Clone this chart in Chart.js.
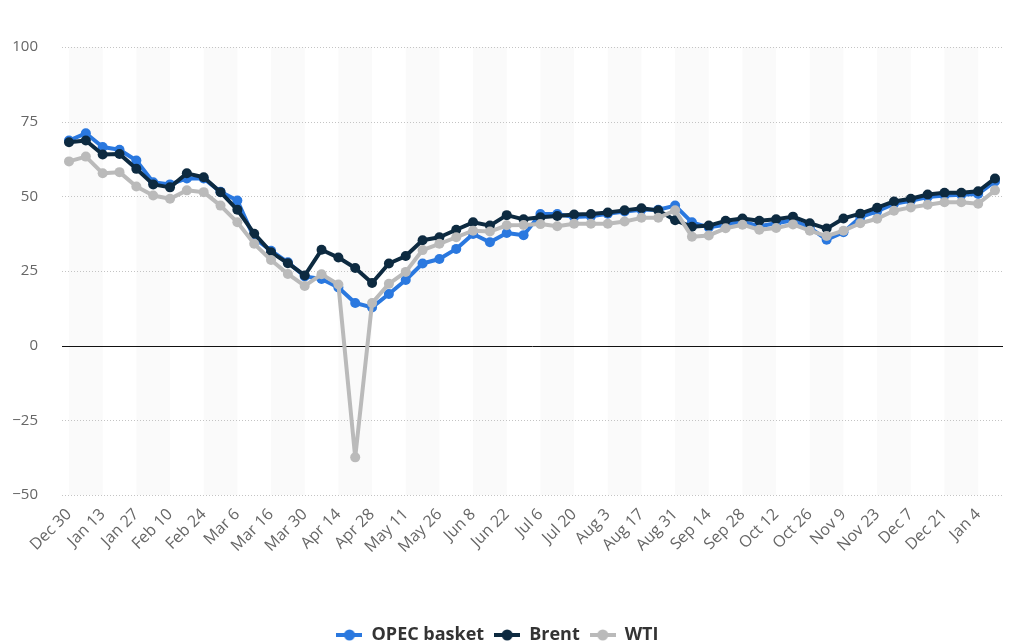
<!DOCTYPE html>
<html>
<head>
<meta charset="utf-8">
<script src="https://cdn.jsdelivr.net/npm/chart.js@4/dist/chart.umd.min.js"></script>
<style>
  html, body { margin: 0; padding: 0; background: #fff; }
  #wrap { width: 1021px; height: 644px; position: relative; }
</style>
</head>
<body>
<div id="wrap"><canvas id="oilChart"></canvas></div>
<script>
var weeks = ["Dec 30", "Jan 6", "Jan 13", "Jan 20", "Jan 27", "Feb 3", "Feb 10", "Feb 17", "Feb 24", "Mar 2",
  "Mar 6", "Mar 9", "Mar 16", "Mar 23", "Mar 30", "Apr 6", "Apr 14", "Apr 20", "Apr 28", "May 4",
  "May 11", "May 18", "May 26", "Jun 1", "Jun 8", "Jun 15", "Jun 22", "Jun 29", "Jul 6", "Jul 13",
  "Jul 20", "Jul 27", "Aug 3", "Aug 10", "Aug 17", "Aug 24", "Aug 31", "Sep 7", "Sep 14", "Sep 21",
  "Sep 28", "Oct 5", "Oct 12", "Oct 19", "Oct 26", "Nov 2", "Nov 9", "Nov 16", "Nov 23", "Nov 30",
  "Dec 7", "Dec 14", "Dec 21", "Dec 28", "Jan 4", "Jan 11"];

var opecBasket = [68.7, 71.1, 66.5, 65.6, 62.0, 54.7, 54.0, 56.0, 56.0, 51.5,
  48.6, 36.0, 31.8, 27.9, 23.2, 22.3, 19.5, 14.3, 12.8, 17.3,
  22.0, 27.5, 29.0, 32.4, 37.4, 34.6, 37.7, 37.0, 44.1, 44.1,
  43.1, 43.3, 44.2, 44.9, 45.5, 45.5, 46.9, 41.3, 39.6, 40.5,
  41.5, 40.0, 41.0, 42.0, 39.5, 35.5, 38.0, 43.0, 45.0, 47.5,
  48.5, 49.8, 50.3, 50.5, 50.8, 55.0];

var brent = [68.1, 68.7, 64.0, 64.2, 59.2, 54.0, 53.0, 57.7, 56.4, 51.4,
  45.5, 37.5, 31.3, 27.6, 23.5, 32.1, 29.5, 26.0, 21.0, 27.5,
  30.0, 35.3, 36.3, 38.8, 41.3, 40.2, 43.7, 42.3, 43.0, 43.4,
  43.9, 44.1, 44.6, 45.3, 46.0, 45.3, 42.0, 39.8, 40.2, 41.8,
  42.6, 41.8, 42.3, 43.2, 41.0, 39.2, 42.6, 44.2, 46.2, 48.3,
  49.2, 50.6, 51.2, 51.2, 51.7, 56.0];

var wti = [61.7, 63.3, 57.7, 58.1, 53.3, 50.3, 49.2, 52.0, 51.4, 46.9,
  41.3, 34.1, 28.7, 24.0, 20.0, 23.9, 20.5, -37.4, 14.3, 20.7,
  24.7, 32.0, 34.1, 36.3, 38.5, 38.2, 40.3, 40.4, 40.7, 40.0,
  40.8, 40.8, 40.8, 41.6, 42.8, 42.8, 45.3, 36.5, 36.9, 39.3,
  40.5, 38.8, 39.4, 40.6, 38.5, 36.7, 38.5, 41.0, 42.5, 45.2,
  46.3, 47.2, 48.0, 48.0, 47.5, 52.0];

var yTicks = [-50, -25, 0, 25, 50, 75, 100];

var colors = { opec: "#2a78df", brent: "#0d2a40", wti: "#bababa" };

Chart.defaults.font.family = "'Open Sans', sans-serif";
Chart.defaults.color = "#666";

// little line+dot marker for the legend
function legendMarker(color) {
  var c = document.createElement("canvas");
  c.width = 26; c.height = 12;
  var g = c.getContext("2d");
  g.strokeStyle = color; g.lineWidth = 4;
  g.beginPath(); g.moveTo(0, 6); g.lineTo(26, 6); g.stroke();
  g.fillStyle = color;
  g.beginPath(); g.arc(13, 6, 5.5, 0, Math.PI * 2); g.fill();
  return c;
}

// striped background + dotted grid + zero line
var backdrop = {
  id: "backdrop",
  beforeDatasetsDraw: function(chart) {
    var ctx = chart.ctx, area = chart.chartArea;
    var xs = chart.scales.x, ys = chart.scales.y;
    ctx.save();
    ctx.fillStyle = "#fafafa";
    for (var i = 0; i + 2 < weeks.length; i += 4) {
      var x0 = xs.getPixelForValue(i), x1 = xs.getPixelForValue(i + 2);
      ctx.fillRect(x0, area.top, x1 - x0, area.bottom - area.top);
    }
    ctx.lineWidth = 1;
    yTicks.forEach(function(v) {
      var py = Math.round(ys.getPixelForValue(v)) + 0.5;
      ctx.beginPath();
      if (v === 0) {
        ctx.setLineDash([]);
        ctx.strokeStyle = "#111";
      } else {
        ctx.setLineDash([1, 2]);
        ctx.strokeStyle = "#c4c4c4";
      }
      ctx.moveTo(area.left - 7, py);
      ctx.lineTo(area.right + 8, py);
      ctx.stroke();
    });
    ctx.restore();
  }
};

function series(label, data, color, order) {
  return {
    label: label,
    data: data,
    borderColor: color,
    backgroundColor: color,
    pointBackgroundColor: color,
    pointBorderColor: color,
    borderWidth: 4,
    borderJoinStyle: "round",
    borderCapStyle: "round",
    pointRadius: 5,
    pointBorderWidth: 0,
    tension: 0,
    order: order
  };
}

new Chart(document.getElementById("oilChart"), {
  type: "line",
  data: {
    labels: weeks,
    datasets: [
      series("OPEC basket", opecBasket, colors.opec, 3),
      series("Brent", brent, colors.brent, 2),
      series("WTI", wti, colors.wti, 1)
    ]
  },
  options: {
    responsive: true,
    maintainAspectRatio: false,
    animation: false,
    layout: { padding: { top: 47, right: 26, left: 0, bottom: -10 } },
    plugins: {
      tooltip: { enabled: false },
      legend: {
        position: "bottom",
        labels: {
          usePointStyle: true,
          pointStyleWidth: 26,
          padding: 10,
          color: "#333",
          font: { size: 18, weight: "bold" },
          sort: function(a, b) { return a.datasetIndex - b.datasetIndex; },
          generateLabels: function(chart) {
            var items = Chart.defaults.plugins.legend.labels.generateLabels(chart);
            items.forEach(function(it) {
              it.pointStyle = legendMarker(chart.data.datasets[it.datasetIndex].borderColor);
            });
            return items;
          }
        }
      }
    },
    scales: {
      x: {
        grid: { display: false },
        border: { display: false },
        afterFit: function(s) { s.height = 121; },
        ticks: {
          autoSkip: false,
          maxRotation: 45,
          minRotation: 45,
          padding: 2,
          color: "#666",
          font: { size: 16 },
          callback: function(v, i) { return i % 2 === 0 ? weeks[i] : ""; }
        }
      },
      y: {
        min: -50,
        max: 100,
        grid: { display: false, drawTicks: false },
        border: { display: false },
        afterFit: function(s) { s.width = 69; },
        afterBuildTicks: function(s) { s.ticks = yTicks.map(function(v) { return { value: v }; }); },
        ticks: {
          padding: 31,
          color: "#666",
          font: { size: 15 },
          callback: function(v) { return v < 0 ? "\u2212" + Math.abs(v) : String(v); }
        }
      }
    }
  },
  plugins: [backdrop]
});
</script>
</body>
</html>
